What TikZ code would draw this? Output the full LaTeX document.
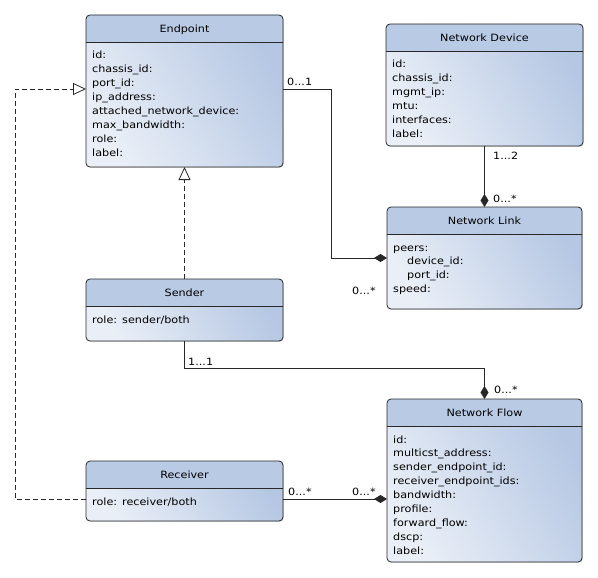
\documentclass[tikz,border=0pt]{standalone}
\usepackage{fontspec}
\setmainfont{DejaVu Sans}[FakeStretch=1.12]
\usetikzlibrary{arrows.meta,shadows}

\definecolor{HeadBlue}{RGB}{185,202,228}
\definecolor{BodyLight}{RGB}{234,239,247}
\definecolor{BodyDark}{RGB}{181,199,227}
\definecolor{EdgeGray}{RGB}{40,40,40}

\newcommand{\UmlClass}[7]{
  \node[ClassBox, minimum width=#4pt, minimum height=#5pt] (#1) at (#2,#3) {};
  \begin{scope}
    \clip (#1.north west) rectangle ([yshift=-27pt]#1.north east);
    \fill[HeadBlue, rounded corners=4pt] (#1.north west) rectangle (#1.south east);
  \end{scope}
  \draw[EdgeGray, line width=0.8pt, rounded corners=4pt] (#1.north west) rectangle (#1.south east);
  \draw[EdgeGray, line width=0.8pt] ([yshift=-27pt]#1.north west) -- ([yshift=-27pt]#1.north east);
  \node[ClassText, anchor=base] (#1_title) at ([yshift=-17.5pt]#1.north) {#6};
  \node[ClassText, anchor=base west, text width=#4pt-12pt, align=left] (#1_attr) at ([xshift=6pt,yshift=-44pt]#1.north west) {#7};
}

\begin{document}
\begin{tikzpicture}[x=1pt, y=-1pt]

\tikzset{
  ClassBox/.style={anchor=north west, inner sep=0pt, outer sep=0pt, rounded corners=4pt,
    left color=BodyLight, right color=BodyDark, shading angle=120,
    drop shadow={shadow xshift=0.8pt, shadow yshift=-0.8pt, opacity=0.3}},
  ClassText/.style={font=\fontsize{10}{13.9}\selectfont, inner sep=0pt, text=black},
  Mult/.style={ClassText, anchor=base west},
  Comp/.style={EdgeGray, line width=0.8pt, -{Diamond[width=8pt,length=13pt]}},
  Gen/.style={EdgeGray, line width=0.8pt, dash pattern=on 5pt off 3pt, -{Triangle[open, fill=white, width=12pt, length=13pt]}}
}

\useasboundingbox (0,0) rectangle (598,578);

\UmlClass{C_1}{86}{15}{197}{152}{Endpoint}{id:\\chassis\_id:\\port\_id:\\ip\_address:\\attached\_network\_device:\\max\_bandwidth:\\role:\\label:}
\UmlClass{C_2}{386}{24}{197}{122}{Network Device}{id:\\chassis\_id:\\mgmt\_ip:\\mtu:\\interfaces:\\label:}
\UmlClass{C_3}{387}{207}{195}{102}{Network Link}{peers:\\\hspace*{14pt}device\_id:\\\hspace*{14pt}port\_id:\\speed:}
\UmlClass{C_4}{86}{279}{197}{62}{Sender}{role: sender/both}
\UmlClass{C_5}{86}{461}{197}{60}{Receiver}{role: receiver/both}
\UmlClass{C_6}{387}{399}{195}{163}{Network Flow}{id:\\multicst\_address:\\sender\_endpoint\_id:\\receiver\_endpoint\_ids:\\bandwidth:\\profile:\\forward\_flow:\\dscp:\\label:}

\draw[Comp] (C_1.east |- 0,89) -| (331,258) -- (C_3.west);
\draw[Comp] (C_2.south) -- (C_3.north);
\draw[Comp] (C_4.south) |- (484.5,368) -- (C_6.north);
\draw[Comp] (C_5.east |- 0,499) -- (C_6.west |- 0,499);
\draw[Gen] (C_4.north) -- (C_1.south);
\draw[Gen] (C_5.west |- 0,499) -| (15,89) -- (C_1.west |- 0,89);

\node[Mult] (m_1) at (287,86) {0...1};
\node[Mult] (m_2) at (352,294) {0...*};
\node[Mult] (m_3) at (493,160) {1...2};
\node[Mult] (m_4) at (493,202) {0...*};
\node[Mult] (m_5) at (188,365) {1...1};
\node[Mult] (m_6) at (494,393) {0...*};
\node[Mult] (m_7) at (288,495) {0...*};
\node[Mult] (m_8) at (352,495) {0...*};

\end{tikzpicture}
\end{document}
